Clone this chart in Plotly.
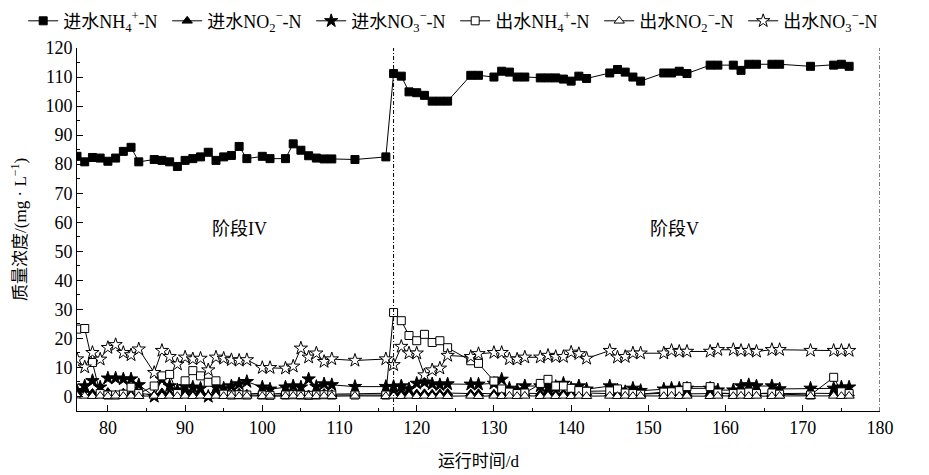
import plotly.graph_objects as go

days = [76, 77, 78, 79, 80, 81, 82, 83, 84, 86, 87, 88, 89, 90, 91, 92, 93, 94, 95, 96, 97, 98,
        100, 101, 103, 104, 105, 106, 107, 108, 109, 112, 116,
        117, 118, 119, 120, 121, 122, 123, 124, 127, 128, 130, 131, 132, 133, 134,
        136, 137, 138, 139, 140, 141, 142, 145, 146, 147, 148, 149, 152, 153, 154, 155,
        158, 159, 161, 162, 163, 164, 166, 167, 171, 174, 175, 176]

inf_nh4 = [82.7, 80.8, 82.3, 82.1, 81.0, 82.1, 84.4, 85.8, 80.8, 81.6, 81.3, 80.8, 79.2, 81.3, 81.9, 82.5, 84.1, 81.3, 82.5, 83.0, 86.1, 81.9,
           82.7, 81.9, 81.9, 87.0, 84.8, 82.9, 82.1, 81.8, 81.8, 81.6, 82.5,
           111.2, 110.3, 104.9, 104.6, 103.7, 101.7, 101.7, 101.7, 110.6, 110.6, 110.0, 112.0, 111.7, 110.0, 110.0,
           109.7, 109.7, 109.7, 109.3, 108.6, 110.3, 109.5, 111.4, 112.6, 111.7, 110.0, 108.6, 111.4, 111.4, 112.0, 111.2,
           114.1, 114.1, 114.1, 112.3, 114.4, 114.4, 114.4, 114.4, 113.7, 114.1, 114.4, 113.7]

inf_no2 = [1.5, 2.2, 1.2, 1.0, 1.5, 0.6, 1.3, 0.8, 1.1, 0.5, 1.4, 1.0, 0.6, 1.2, 0.8, 1.5, 0.3, 1.0, 1.2, 0.7, 1.3, 0.9,
           1.1, 0.8, 1.2, 0.9, 1.4, 0.7, 1.0, 1.2, 0.8, 0.9, 1.0,
           1.0, 1.2, 0.8, 1.0, 1.1, 0.9, 1.0, 1.2, 1.0, 1.1, 0.9, 1.2, 1.0, 0.8, 1.1,
           1.0, 1.2, 0.9, 1.1, 1.0, 0.8, 1.2, 1.0, 0.9, 1.1, 1.0, 0.8, 1.1, 1.0, 1.2, 0.9,
           1.0, 1.1, 0.9, 1.2, 1.0, 1.1, 0.9, 1.0, 1.1, 1.0, 1.2, 1.0]

inf_no3 = [2.0, 3.6, 5.4, 3.2, 6.3, 6.3, 6.0, 6.0, 4.0, 0.0, 5.9, 3.6, 2.2, 3.4, 3.2, 2.8, 0.0, 3.2, 2.8, 3.6, 4.3, 5.1,
           3.2, 2.5, 3.2, 3.6, 3.2, 6.0, 3.4, 4.3, 4.0, 3.4, 3.4,
           3.4, 3.6, 2.6, 4.5, 4.9, 4.3, 4.0, 4.3, 4.2, 4.2, 4.5, 5.9, 2.8, 2.2, 3.6,
           3.6, 3.2, 3.4, 4.5, 2.8, 3.6, 2.5, 3.6, 2.2, 1.6, 2.8, 2.0, 2.5, 2.8, 2.8, 2.8,
           2.8, 2.2, 2.2, 3.6, 4.0, 3.6, 3.6, 2.6, 2.8, 2.8, 3.2, 3.2]

eff_nh4 = [23.2, 23.4, 11.7, 1.0, 0.5, 0.5, 0.8, 3.2, 1.0, 3.6, 7.1, 7.6, 1.0, 5.4, 8.9, 7.1, 4.9, 5.4, 0.8, 0.5, 0.6, 0.5,
           0.5, 0.4, 0.5, 0.6, 0.5, 0.4, 0.5, 0.6, 0.5, 0.5, 0.5,
           28.9, 26.1, 21.0, 19.2, 21.4, 18.6, 19.2, 16.8, 12.3, 11.4, 5.3, 2.6, 1.5, 1.0, 1.2,
           4.5, 5.9, 3.6, 3.6, 2.8, 2.0, 1.8, 1.9, 2.6, 1.2, 1.0, 0.8, 1.5, 1.6, 2.0, 3.4,
           3.4, 1.2, 1.0, 1.2, 1.5, 1.0, 1.2, 0.8, 0.5, 6.6, 1.6, 1.0]

eff_no2 = [0.3, 0.2, 0.1, 0.2, 0.1, 0.2, 0.1, 0.2, 0.1, 0.2, 0.1, 0.2, 0.1, 0.2, 0.1, 0.2, 0.1, 0.2, 0.1, 0.2, 0.1, 0.2,
           0.1, 0.2, 0.1, 0.2, 0.1, 0.2, 0.1, 0.2, 0.1, 0.2, 0.1,
           0.2, 0.1, 0.2, 0.1, 0.2, 0.1, 0.2, 0.1, 0.2, 0.1, 0.2, 0.1, 0.2, 0.1, 0.2,
           0.1, 0.2, 0.1, 0.2, 0.1, 0.2, 0.1, 0.2, 0.1, 0.2, 0.1, 0.2, 0.1, 0.2, 0.1, 0.2,
           0.1, 0.2, 0.1, 0.2, 0.1, 0.2, 0.1, 0.2, 0.1, 0.2, 0.1, 0.2]

eff_no3 = [12.9, 10.1, 15.1, 12.8, 16.8, 17.8, 15.1, 14.3, 16.3, 8.2, 15.8, 13.7, 11.1, 13.5, 12.9, 13.1, 9.1, 13.5, 13.1, 12.6, 12.4, 12.6,
           9.9, 9.9, 9.7, 10.4, 16.6, 13.5, 14.9, 12.0, 12.9, 12.4, 12.9,
           10.9, 17.2, 14.9, 14.9, 7.4, 9.1, 9.7, 14.1, 13.7, 14.7, 15.1, 15.1, 12.9, 12.8, 13.5,
           13.5, 14.1, 13.7, 13.7, 15.2, 14.7, 13.1, 15.8, 13.5, 13.7, 14.9, 14.9, 14.9, 15.8, 15.5, 15.5,
           15.5, 16.1, 16.1, 15.8, 15.8, 15.5, 16.1, 16.1, 15.8, 15.8, 15.8, 15.8]

stage_lines = [117, 180]
stage_labels = ["阶段IV", "阶段V"]
stage_label_x = [97.1, 153.4]
stage_label_y = 57.8

FONT = "Liberation Serif, Times New Roman, Noto Sans CJK SC, serif"

series = [
    ("进水NH<sub>4</sub><sup>+</sup>-N", inf_nh4, "square", "black", 8),
    ("进水NO<sub>2</sub><sup>−</sup>-N", inf_no2, "triangle-up", "black", 9),
    ("进水NO<sub>3</sub><sup>−</sup>-N", inf_no3, "star", "black", 10),
    ("出水NH<sub>4</sub><sup>+</sup>-N", eff_nh4, "square", "white", 8),
    ("出水NO<sub>2</sub><sup>−</sup>-N", eff_no2, "triangle-up", "white", 9),
    ("出水NO<sub>3</sub><sup>−</sup>-N", eff_no3, "star", "white", 10),
]

fig = go.Figure()
for name, vals, sym, fill, size in series:
    fig.add_trace(go.Scatter(
        x=days, y=vals, name=name, mode="lines+markers",
        line=dict(color="black", width=1),
        marker=dict(symbol=sym, size=size, color=fill, line=dict(color="black", width=1)),
    ))

for xv in stage_lines:
    fig.add_shape(type="line", x0=xv, x1=xv, y0=-5, y1=120, xref="x", yref="y",
                  line=dict(color="black", width=1, dash="4px,2px,1px,2px"))

for lab, xv in zip(stage_labels, stage_label_x):
    fig.add_annotation(x=xv, y=stage_label_y, text=lab, showarrow=False,
                       font=dict(family=FONT, size=18, color="black"))

# y-axis title placed as rotated annotation
fig.add_annotation(x=-0.073, y=0.5, xref="paper", yref="paper", xanchor="center", yanchor="middle",
                   text="质量浓度/(mg · L<sup>−1</sup>)", textangle=-90, showarrow=False,
                   font=dict(family=FONT, size=17, color="black"))

axis_common = dict(
    showline=True, linecolor="black", linewidth=1, mirror=False,
    ticks="inside", ticklen=6, tickwidth=1, tickcolor="black",
    showgrid=False, zeroline=False, automargin=False,
    tickfont=dict(family=FONT, size=18, color="black"),
)

fig.update_xaxes(range=[76, 180], dtick=10, tick0=80,
                 minor=dict(ticks="inside", ticklen=3, dtick=5, tick0=80, tickcolor="black", showgrid=False),
                 title=dict(text="运行时间/d", font=dict(family=FONT, size=17, color="black"), standoff=18),
                 **axis_common)
fig.update_yaxes(range=[-5, 120], dtick=10, tick0=0,
                 minor=dict(ticks="inside", ticklen=3, dtick=5, tick0=0, tickcolor="black", showgrid=False),
                 **axis_common)

fig.update_layout(
    width=921, height=467,
    margin=dict(l=69, r=49, t=40, b=64, autoexpand=False),
    plot_bgcolor="white", paper_bgcolor="white",
    font=dict(family=FONT, size=17, color="black"),
    showlegend=True,
    legend=dict(orientation="h", x=-0.067, xanchor="left", y=1.125, yanchor="top",
                font=dict(family=FONT, size=18, color="black"),
                itemwidth=30, tracegroupgap=0, entrywidth=99, entrywidthmode="pixels",
                bgcolor="rgba(0,0,0,0)"),
)

fig.write_html("out.html")
